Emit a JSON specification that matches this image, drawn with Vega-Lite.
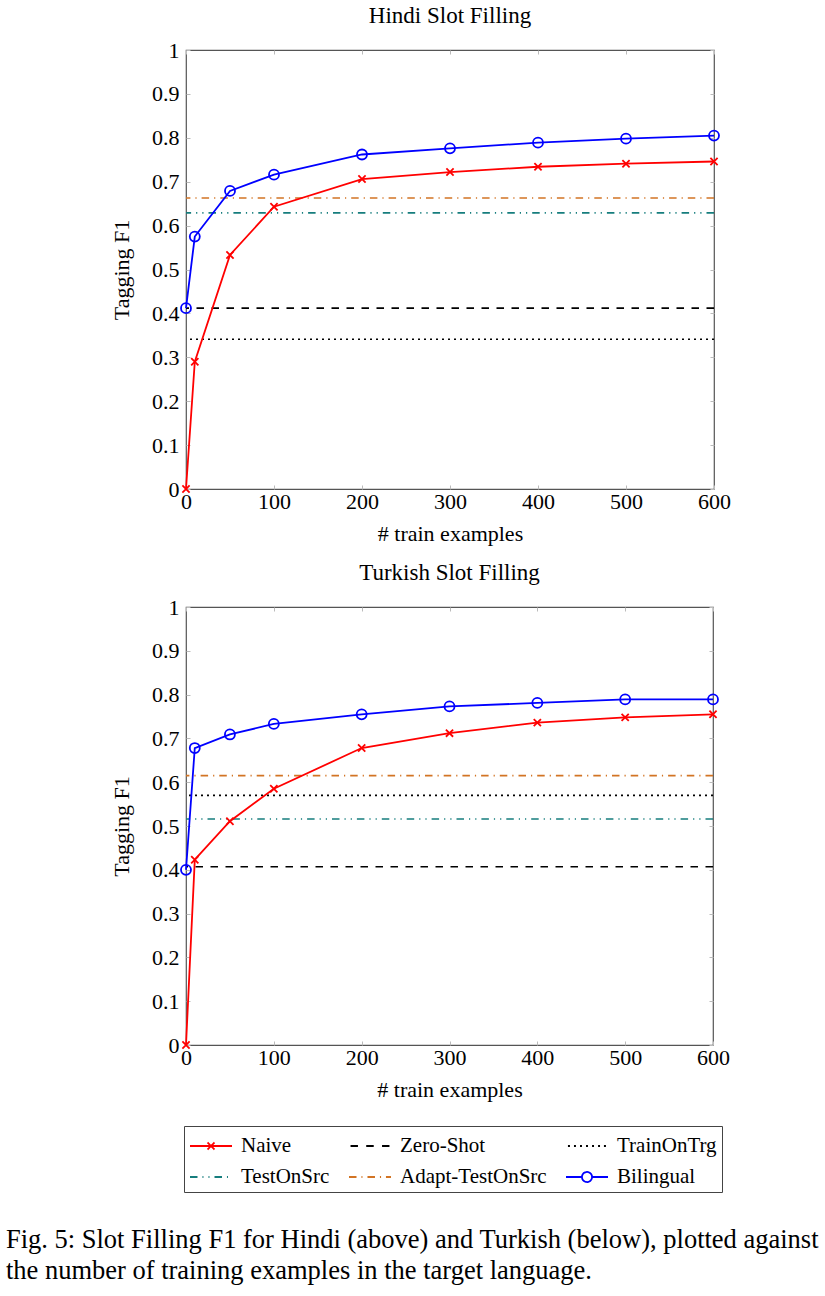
{
  "$schema": "https://vega.github.io/schema/vega-lite/v6.json",
  "background": "white",
  "padding": {"left": 5, "top": 4, "right": 5, "bottom": 5},
  "datasets": {
    "curves": [
      {"lang": "Hindi", "series": "Naive", "x": 0, "f1": 0.0},
      {"lang": "Hindi", "series": "Naive", "x": 10, "f1": 0.29},
      {"lang": "Hindi", "series": "Naive", "x": 50, "f1": 0.533},
      {"lang": "Hindi", "series": "Naive", "x": 100, "f1": 0.643},
      {"lang": "Hindi", "series": "Naive", "x": 200, "f1": 0.706},
      {"lang": "Hindi", "series": "Naive", "x": 300, "f1": 0.722},
      {"lang": "Hindi", "series": "Naive", "x": 400, "f1": 0.734},
      {"lang": "Hindi", "series": "Naive", "x": 500, "f1": 0.741},
      {"lang": "Hindi", "series": "Naive", "x": 600, "f1": 0.746},
      {"lang": "Hindi", "series": "Bilingual", "x": 0, "f1": 0.412},
      {"lang": "Hindi", "series": "Bilingual", "x": 10, "f1": 0.575},
      {"lang": "Hindi", "series": "Bilingual", "x": 50, "f1": 0.679},
      {"lang": "Hindi", "series": "Bilingual", "x": 100, "f1": 0.716},
      {"lang": "Hindi", "series": "Bilingual", "x": 200, "f1": 0.762},
      {"lang": "Hindi", "series": "Bilingual", "x": 300, "f1": 0.776},
      {"lang": "Hindi", "series": "Bilingual", "x": 400, "f1": 0.789},
      {"lang": "Hindi", "series": "Bilingual", "x": 500, "f1": 0.798},
      {"lang": "Hindi", "series": "Bilingual", "x": 600, "f1": 0.805},
      {"lang": "Turkish", "series": "Naive", "x": 0, "f1": 0.0},
      {"lang": "Turkish", "series": "Naive", "x": 10, "f1": 0.423},
      {"lang": "Turkish", "series": "Naive", "x": 50, "f1": 0.511},
      {"lang": "Turkish", "series": "Naive", "x": 100, "f1": 0.585},
      {"lang": "Turkish", "series": "Naive", "x": 200, "f1": 0.678},
      {"lang": "Turkish", "series": "Naive", "x": 300, "f1": 0.712},
      {"lang": "Turkish", "series": "Naive", "x": 400, "f1": 0.736},
      {"lang": "Turkish", "series": "Naive", "x": 500, "f1": 0.748},
      {"lang": "Turkish", "series": "Naive", "x": 600, "f1": 0.755},
      {"lang": "Turkish", "series": "Bilingual", "x": 0, "f1": 0.4},
      {"lang": "Turkish", "series": "Bilingual", "x": 10, "f1": 0.678},
      {"lang": "Turkish", "series": "Bilingual", "x": 50, "f1": 0.709},
      {"lang": "Turkish", "series": "Bilingual", "x": 100, "f1": 0.733},
      {"lang": "Turkish", "series": "Bilingual", "x": 200, "f1": 0.755},
      {"lang": "Turkish", "series": "Bilingual", "x": 300, "f1": 0.773},
      {"lang": "Turkish", "series": "Bilingual", "x": 400, "f1": 0.781},
      {"lang": "Turkish", "series": "Bilingual", "x": 500, "f1": 0.789},
      {"lang": "Turkish", "series": "Bilingual", "x": 600, "f1": 0.789}
    ],
    "baselines": [
      {"lang": "Hindi", "series": "Zero-Shot", "f1": 0.412},
      {"lang": "Hindi", "series": "TrainOnTrg", "f1": 0.341},
      {"lang": "Hindi", "series": "TestOnSrc", "f1": 0.629},
      {"lang": "Hindi", "series": "Adapt-TestOnSrc", "f1": 0.663},
      {"lang": "Turkish", "series": "Zero-Shot", "f1": 0.407},
      {"lang": "Turkish", "series": "TrainOnTrg", "f1": 0.57},
      {"lang": "Turkish", "series": "TestOnSrc", "f1": 0.516},
      {"lang": "Turkish", "series": "Adapt-TestOnSrc", "f1": 0.615}
    ]
  },
  "vconcat": [
    {
      "title": {"text": "Hindi Slot Filling"},
      "width": 528,
      "height": 439,
      "resolve": {"axis": {"x": "independent", "y": "independent"}},
      "layer": [
        {
          "data": {"name": "curves"},
          "transform": [{"filter": "datum.f1 > 5"}],
          "mark": {"type": "point", "filled": false, "opacity": 1, "strokeWidth": 1.8},
          "encoding": {
            "color": {"field": "series", "type": "nominal",
              "scale": {"domain": ["Naive", "Zero-Shot", "TrainOnTrg", "TestOnSrc", "Adapt-TestOnSrc", "Bilingual"],
                        "range": ["#ff0000", "#000000", "#000000", "#167d7d", "#d27424", "#0000ff"]},
              "legend": {"orient": "none", "legendX": -2, "legendY": 1076, "columns": 3, "direction": "horizontal", "title": null}},
            "shape": {"field": "series", "type": "nominal",
              "scale": {"domain": ["Naive", "Zero-Shot", "TrainOnTrg", "TestOnSrc", "Adapt-TestOnSrc", "Bilingual"],
                        "range": [
                          "M-1,0H2M0.25,-0.25L0.75,0.25M0.25,0.25L0.75,-0.25",
                          "M-0.89,0H-0.36M0.23,0H0.77M1.36,0H1.89",
                          "M-0.86,0H-0.71M-0.43,0H-0.29M0,0H0.14M0.43,0H0.57M0.86,0H1M1.29,0H1.43M1.71,0H1.86",
                          "M-1,0H-0.46M-0.11,0H-0.04M0.32,0H0.39M0.75,0H1.29M1.64,0H1.71",
                          "M-1,0H-0.46M-0.11,0H-0.04M0.32,0H0.86M1.21,0H1.29M1.64,0H2",
                          "M-1,0H0.14M0.86,0H2M0.14,0A0.36,0.36,0,1,0,0.86,0A0.36,0.36,0,1,0,0.14,0"
                        ]},
              "legend": {"orient": "none", "legendX": -2, "legendY": 1076, "columns": 3, "direction": "horizontal", "title": null}}
          }
        },
        {
          "data": {"name": "baselines"},
          "transform": [{"filter": "datum.lang == 'Hindi'"}],
          "mark": {"type": "rule", "strokeWidth": 1.6},
          "encoding": {
            "y": {"field": "f1", "type": "quantitative", "scale": {"domain": [0, 1]}, "axis": null},
            "color": {"field": "series", "type": "nominal", "legend": null},
            "strokeDash": {"field": "series", "type": "nominal", "legend": null,
              "scale": {"domain": ["Naive", "Zero-Shot", "TrainOnTrg", "TestOnSrc", "Adapt-TestOnSrc", "Bilingual"],
                        "range": [[1, 0], [7.5, 7.5], [2, 4], [7.5, 5, 1.2, 5, 1.2, 5], [7.5, 5, 1.2, 5], [1, 0]]}}
          }
        },
        {
          "data": {"name": "curves"},
          "transform": [{"filter": "datum.lang == 'Hindi'"}],
          "mark": {"type": "line", "strokeWidth": 1.8},
          "encoding": {
            "x": {"field": "x", "type": "quantitative", "scale": {"domain": [0, 600]},
              "axis": {"orient": "bottom", "values": [0, 100, 200, 300, 400, 500, 600], "title": "# train examples", "labelPadding": 6, "titlePadding": 11, "labelFlush": false}},
            "y": {"field": "f1", "type": "quantitative", "scale": {"domain": [0, 1]},
              "axis": {"orient": "left", "values": [0, 0.1, 0.2, 0.3, 0.4, 0.5, 0.6, 0.7, 0.8, 0.9, 1], "format": "~g", "title": "Tagging F1", "labelPadding": 11, "titlePadding": 18}},
            "color": {"field": "series", "type": "nominal", "legend": null}
          }
        },
        {
          "data": {"name": "curves"},
          "transform": [{"filter": "datum.lang == 'Hindi' && datum.series == 'Naive'"}],
          "mark": {"type": "point", "shape": "M-1,-1L1,1M-1,1L1,-1", "size": 52, "filled": false, "opacity": 1, "strokeWidth": 1.8},
          "encoding": {
            "x": {"field": "x", "type": "quantitative", "scale": {"domain": [0, 600]},
              "axis": {"orient": "top", "values": [0, 100, 200, 300, 400, 500, 600], "labels": false, "title": null}},
            "y": {"field": "f1", "type": "quantitative", "scale": {"domain": [0, 1]},
              "axis": {"orient": "right", "values": [0, 0.1, 0.2, 0.3, 0.4, 0.5, 0.6, 0.7, 0.8, 0.9, 1], "labels": false, "title": null}},
            "color": {"field": "series", "type": "nominal", "legend": null}
          }
        },
        {
          "data": {"name": "curves"},
          "transform": [{"filter": "datum.lang == 'Hindi' && datum.series == 'Bilingual'"}],
          "mark": {"type": "point", "shape": "circle", "size": 100, "filled": false, "opacity": 1, "strokeWidth": 1.8},
          "encoding": {
            "x": {"field": "x", "type": "quantitative", "axis": null},
            "y": {"field": "f1", "type": "quantitative", "axis": null},
            "color": {"field": "series", "type": "nominal", "legend": null}
          }
        }
      ]
    },
    {
      "title": {"text": "Turkish Slot Filling"},
      "width": 527,
      "height": 438,
      "resolve": {"axis": {"x": "independent", "y": "independent"}},
      "layer": [
        {
          "data": {"name": "baselines"},
          "transform": [{"filter": "datum.lang == 'Turkish'"}],
          "mark": {"type": "rule", "strokeWidth": 1.6},
          "encoding": {
            "y": {"field": "f1", "type": "quantitative", "scale": {"domain": [0, 1]}, "axis": null},
            "color": {"field": "series", "type": "nominal", "legend": null},
            "strokeDash": {"field": "series", "type": "nominal", "legend": null}
          }
        },
        {
          "data": {"name": "curves"},
          "transform": [{"filter": "datum.lang == 'Turkish'"}],
          "mark": {"type": "line", "strokeWidth": 1.8},
          "encoding": {
            "x": {"field": "x", "type": "quantitative", "scale": {"domain": [0, 600]},
              "axis": {"orient": "bottom", "values": [0, 100, 200, 300, 400, 500, 600], "title": "# train examples", "labelPadding": 6, "titlePadding": 11, "labelFlush": false}},
            "y": {"field": "f1", "type": "quantitative", "scale": {"domain": [0, 1]},
              "axis": {"orient": "left", "values": [0, 0.1, 0.2, 0.3, 0.4, 0.5, 0.6, 0.7, 0.8, 0.9, 1], "format": "~g", "title": "Tagging F1", "labelPadding": 11, "titlePadding": 18}},
            "color": {"field": "series", "type": "nominal", "legend": null}
          }
        },
        {
          "data": {"name": "curves"},
          "transform": [{"filter": "datum.lang == 'Turkish' && datum.series == 'Naive'"}],
          "mark": {"type": "point", "shape": "M-1,-1L1,1M-1,1L1,-1", "size": 52, "filled": false, "opacity": 1, "strokeWidth": 1.8},
          "encoding": {
            "x": {"field": "x", "type": "quantitative", "scale": {"domain": [0, 600]},
              "axis": {"orient": "top", "values": [0, 100, 200, 300, 400, 500, 600], "labels": false, "title": null}},
            "y": {"field": "f1", "type": "quantitative", "scale": {"domain": [0, 1]},
              "axis": {"orient": "right", "values": [0, 0.1, 0.2, 0.3, 0.4, 0.5, 0.6, 0.7, 0.8, 0.9, 1], "labels": false, "title": null}},
            "color": {"field": "series", "type": "nominal", "legend": null}
          }
        },
        {
          "data": {"name": "curves"},
          "transform": [{"filter": "datum.lang == 'Turkish' && datum.series == 'Bilingual'"}],
          "mark": {"type": "point", "shape": "circle", "size": 100, "filled": false, "opacity": 1, "strokeWidth": 1.8},
          "encoding": {
            "x": {"field": "x", "type": "quantitative", "axis": null},
            "y": {"field": "f1", "type": "quantitative", "axis": null},
            "color": {"field": "series", "type": "nominal", "legend": null}
          }
        }
      ]
    }
  ],
  "spacing": 16,
  "title": {
    "text": ["Fig. 5: Slot Filling F1 for Hindi (above) and Turkish (below), plotted against", "the number of training examples in the target language."],
    "orient": "bottom", "anchor": "start", "frame": "bounds",
    "fontSize": 26.5, "lineHeight": 31, "offset": 34, "dx": -104,
    "font": "Liberation Serif", "fontWeight": "normal", "color": "#000000"
  },
  "config": {
    "font": "Liberation Serif",
    "view": {"stroke": "#555555", "strokeWidth": 1.2},
    "title": {"font": "Liberation Serif", "fontSize": 23, "fontWeight": "normal", "color": "#000000", "frame": "group", "anchor": "middle", "offset": 11},
    "axis": {
      "labelFont": "Liberation Serif", "labelFontSize": 22, "labelColor": "#000000",
      "titleFont": "Liberation Serif", "titleFontSize": 22, "titleFontWeight": "normal", "titleColor": "#000000",
      "domain": false, "grid": false, "ticks": true, "tickColor": "#bbbbbb", "tickSize": -4, "tickWidth": 1
    },
    "legend": {
      "symbolSize": 784, "symbolStrokeWidth": 1.8, "labelOffset": 22, "columnPadding": 15, "rowPadding": 6,
      "padding": 5, "strokeColor": "#444444", "labelFont": "Liberation Serif", "labelFontSize": 21,
      "labelColor": "#000000", "labelLimit": 400
    }
  }
}
